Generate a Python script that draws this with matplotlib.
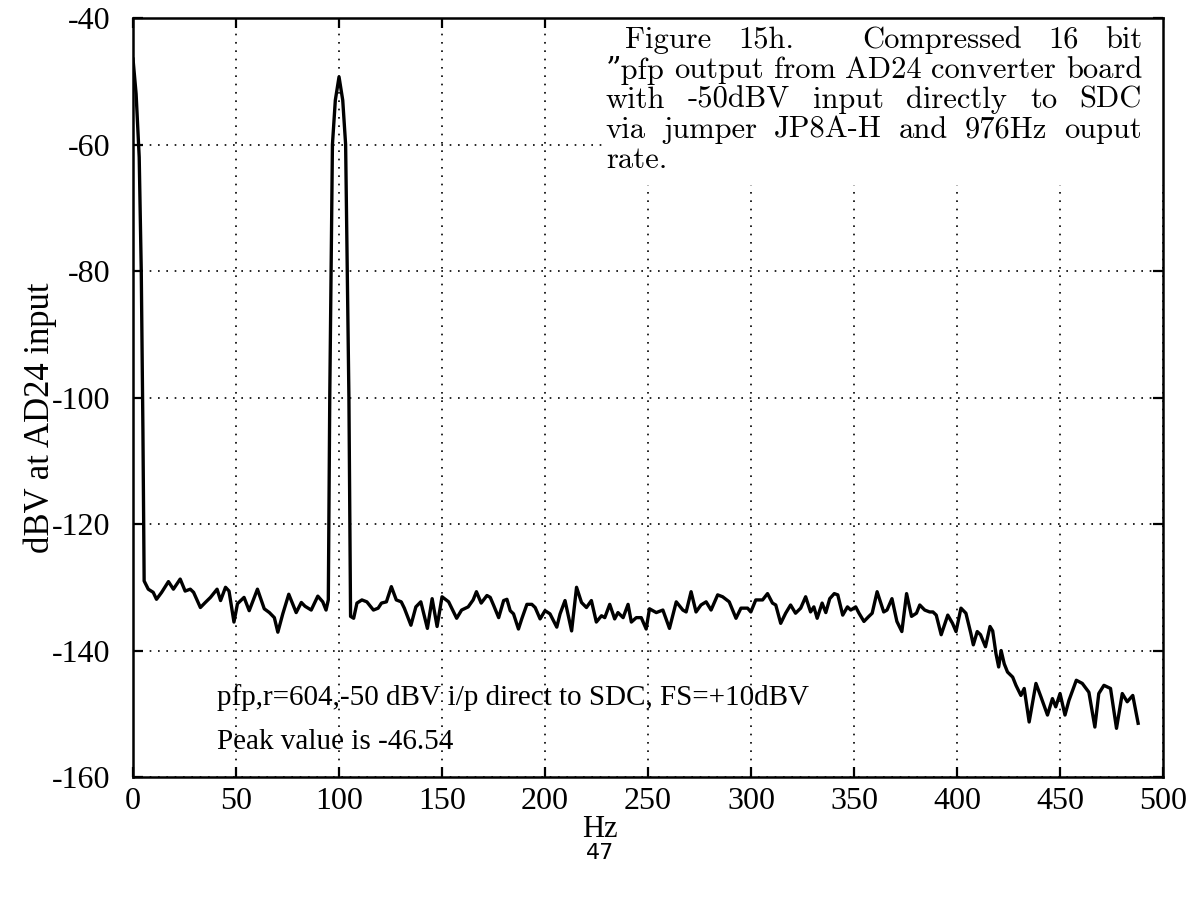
import numpy as np
import matplotlib.pyplot as plt

# spectrum (Hz, dBV)
freq = [0, 1.5, 3.0, 4.0, 4.8, 5.4, 7.4, 9.8, 11.4, 13.9, 17.2, 19.6, 22.9, 25.3, 27.8,
        29.4, 32.7, 35.1, 37.6, 40.8, 42.5, 44.9, 46.6, 49.0, 50.7, 53.9, 56.4, 60.4,
        63.7, 66.2, 68.6, 70.3, 72.7, 75.6, 79.2, 81.7, 83.5, 86.5, 89.7, 92.1, 93.7,
        94.8, 95.5, 96.3, 96.8, 98.2, 100.0, 101.8, 103.2, 103.8, 104.8, 105.6, 107.1,
        108.7, 111.1, 113.5, 116.7, 119.0, 120.6, 123.0, 125.4, 127.8, 130.2, 131.7,
        134.9, 137.3, 139.7, 142.9, 145.2, 147.6, 150.0, 153.2, 157.1, 159.5, 162.7,
        165.1, 166.7, 169.0, 171.8, 173.4, 175.1, 177.5, 179.9, 181.5, 183.1, 184.7,
        187.1, 188.7, 191.2, 193.6, 195.2, 197.6, 200.0, 202.4, 205.7, 207.3, 209.7,
        212.9, 215.3, 217.7, 220.1, 222.5, 224.9, 227.4, 229.0, 231.4, 233.8, 235.4,
        237.9, 240.3, 241.9, 244.3, 246.7, 249.1, 250.7, 254.0, 257.2, 260.4, 263.7,
        266.9, 268.5, 270.9, 273.3, 275.7, 278.2, 280.6, 283.8, 286.2, 289.4, 292.7,
        295.1, 298.3, 299.9, 302.3, 305.6, 308.0, 310.4, 312.0, 314.4, 316.8, 319.2,
        321.6, 324.1, 326.5, 328.9, 330.5, 332.1, 334.5, 336.3, 338.2, 340.4, 342.1,
        344.5, 346.8, 348.4, 350.8, 352.4, 354.8, 357.2, 358.8, 361.2, 364.4, 366.0,
        368.4, 370.8, 373.2, 375.5, 377.9, 380.3, 381.9, 384.3, 386.7, 388.3, 389.9,
        392.3, 395.5, 397.8, 399.5, 401.9, 404.3, 406.7, 407.9, 409.8, 411.4, 413.8,
        416.0, 417.3, 418.9, 420.2, 421.4, 422.9, 424.5, 427.0, 428.6, 431.0, 432.6,
        435.0, 438.3, 440.7, 443.9, 446.3, 447.9, 450.0, 452.4, 454.3, 457.9, 460.8,
        464.0, 466.9, 468.8, 471.3, 474.5, 477.4, 480.2, 482.6, 485.3, 487.9]
level = [-46.5, -52, -62, -80, -105, -129.0, -130.3, -130.8, -131.9, -130.8, -129.1, -130.3,
         -128.7, -130.6, -130.3, -130.8, -133.2, -132.4, -131.6, -130.3, -132.1, -130.0,
         -130.6, -135.5, -132.6, -131.6, -133.7, -130.3, -133.4, -134.0, -134.8, -137.1,
         -134.2, -131.1, -134.0, -132.4, -133.0, -133.6, -131.4, -132.3, -133.6, -132.0,
         -100, -75, -60, -53, -49.3, -53, -60, -75, -100, -134.6, -134.9, -132.5, -132.0,
         -132.3, -133.6, -133.3, -132.5, -132.3, -129.9, -132.0, -132.3, -133.3, -136.0,
         -133.1, -132.3, -136.5, -131.8, -136.2, -131.5, -132.3, -134.9, -133.6, -133.1,
         -132.0, -130.7, -132.5, -131.3, -131.6, -132.9, -134.8, -132.1, -131.9, -133.7,
         -134.2, -136.6, -135.0, -132.7, -132.7, -133.2, -135.0, -133.7, -134.2, -136.3,
         -134.2, -132.1, -136.9, -130.0, -132.4, -133.2, -132.1, -135.5, -134.5, -134.8,
         -132.7, -135.0, -134.0, -134.8, -132.7, -135.5, -134.8, -134.8, -136.6, -133.4,
         -134.0, -133.6, -136.5, -132.3, -133.6, -133.9, -130.7, -133.9, -132.8, -132.3,
         -133.6, -131.2, -131.5, -132.3, -134.9, -133.3, -133.3, -133.9, -132.0, -132.0,
         -131.0, -132.5, -132.8, -135.7, -134.1, -132.8, -134.1, -133.3, -131.5, -133.9,
         -133.1, -134.9, -132.5, -134.0, -131.8, -131.0, -131.2, -134.4, -133.1, -133.6,
         -133.1, -134.1, -135.4, -134.6, -134.1, -130.7, -133.9, -133.6, -131.8, -135.4,
         -137.0, -131.0, -134.6, -134.1, -132.8, -133.6, -133.9, -133.9, -134.4, -137.5,
         -134.4, -135.7, -137.0, -133.3, -134.1, -137.3, -139.1, -137.0, -137.5, -139.4,
         -136.2, -136.9, -140.5, -142.6, -140.0, -142.1, -143.4, -144.2, -145.5, -147.1,
         -146.0, -151.3, -145.2, -147.3, -150.2, -147.6, -148.9, -146.8, -150.2, -147.9,
         -144.7, -145.2, -146.6, -152.1, -146.8, -145.5, -146.0, -152.3, -146.8, -148.1,
         -147.1, -151.5]

xticks = [0, 50, 100, 150, 200, 250, 300, 350, 400, 450, 500]
yticks = [-160, -140, -120, -100, -80, -60, -40]

caption = ["Figure 15h. Compressed 16 bit",
           "\u201dpfp output from AD24 converter board",
           "with -50dBV input directly to SDC",
           "via jumper JP8A-H and 976Hz ouput",
           "rate."]
note1 = "pfp,r=604,-50 dBV i/p direct to SDC, FS=+10dBV"
note2 = "Peak value is -46.54"

serif = ['Liberation Serif', 'DejaVu Serif']
cm = ['cmr10', 'DejaVu Serif']

fig = plt.figure(figsize=(11.93, 9.05), dpi=100)
ax = fig.add_axes([0.1115, 0.1414, 0.8634, 0.8387])

ax.plot(freq, level, color='black', lw=2.4, zorder=3)

ax.set_xlim(0, 500)
ax.set_ylim(-160, -40)
ax.set_xticks(xticks)
ax.set_yticks(yticks)
ax.set_xticklabels([str(v) for v in xticks], family=serif, fontsize=23)
ax.set_yticklabels([str(v) for v in yticks], family=serif, fontsize=23)
ax.tick_params(direction='in', length=7, width=1.6, top=True, right=True)
ax.tick_params(axis='x', pad=7)
ax.tick_params(axis='y', pad=16)
ax.grid(True, color='black', linestyle=(0, (1, 4)), lw=1.2)
for s in ax.spines.values():
    s.set_linewidth(1.8)

# white patch behind the caption hides the grid there
ax.add_patch(plt.Rectangle((0.458, 0.78), 0.542, 0.22, transform=ax.transAxes,
                           facecolor='white', edgecolor='none', zorder=2))

# justified caption lines, like the typeset original
renderer = fig.canvas.get_renderer()
axw = ax.bbox.width
ys = [0.971, 0.9315, 0.892, 0.8524, 0.8129]
x_right = (1142 - 133) / 1030
for i, (line, yy) in enumerate(zip(caption, ys)):
    x_left = 0.478 if i == 0 else 0.459
    words = line.split()
    texts = [ax.text(0, yy, w, transform=ax.transAxes, family=cm, fontsize=22,
                     va='center', ha='left', zorder=4) for w in words]
    widths = [t.get_window_extent(renderer).width / axw for t in texts]
    if i == len(caption) - 1:
        gaps = [0.012] * (len(words) - 1)
    else:
        weights = [2.6 if w.endswith('.') else 1.0 for w in words[:-1]]
        free = (x_right - x_left) - sum(widths)
        gaps = [free * wt / sum(weights) for wt in weights]
    x = x_left
    for j, t in enumerate(texts):
        t.set_x(x)
        x += widths[j] + (gaps[j] if j < len(gaps) else 0)

ax.text(0.082, 0.1054, note1, transform=ax.transAxes, family=serif, fontsize=21,
        va='center', ha='left', zorder=4)
ax.text(0.082, 0.046, note2, transform=ax.transAxes, family=serif, fontsize=21,
        va='center', ha='left', zorder=4)

ax.set_ylabel("dBV at AD24 input", family=serif, fontsize=25)
ax.yaxis.set_label_coords(-0.074, 0.473)
fig.text(0.503, 0.083, "Hz", family=serif, fontsize=22, ha='center', va='center')
fig.text(0.503, 0.058, "47", family=['DejaVu Sans'], fontsize=16, ha='center', va='center')

fig.savefig('out.png', dpi=100)
